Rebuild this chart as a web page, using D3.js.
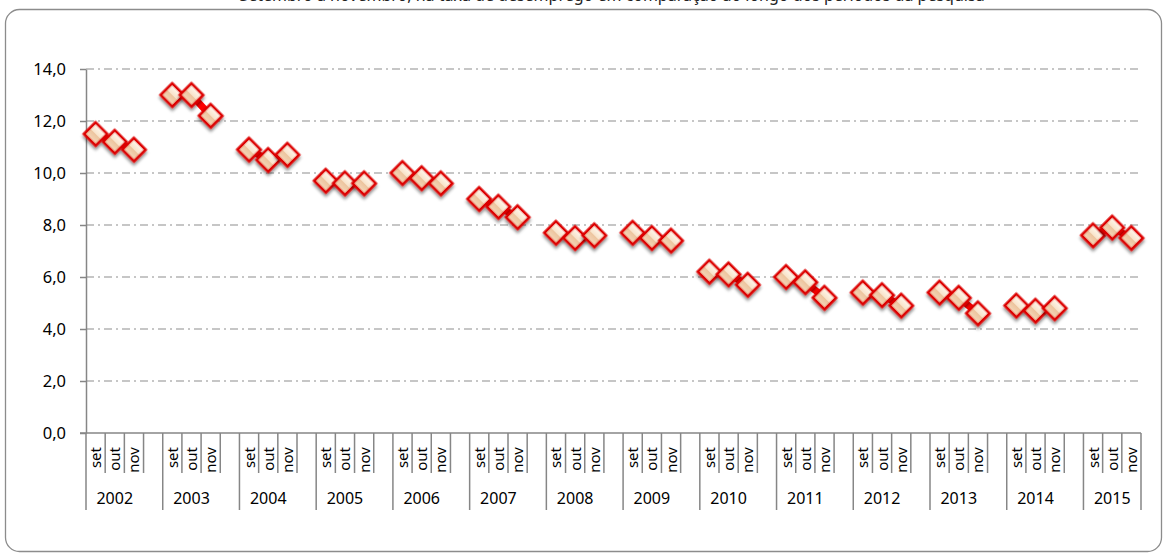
<!DOCTYPE html>
<html>
<head>
<meta charset="utf-8">
<script src="https://cdn.jsdelivr.net/npm/d3@7"></script>
<style>
  body { margin: 0; background: #fff; }
  svg { display: block; font-family: "Noto Sans", "Open Sans", sans-serif; }
</style>
</head>
<body>
<svg id="drawing_region"></svg>
<script>
// values (taxa, %), months set/out/nov per year
const years = ["2002","2003","2004","2005","2006","2007","2008","2009","2010","2011","2012","2013","2014","2015"];
const months = ["set","out","nov"];
const values = [
    [11.5, 11.2, 10.9],
    [13.0, 13.0, 12.2],
    [10.9, 10.5, 10.7],
    [9.7, 9.6, 9.6],
    [10.0, 9.8, 9.6],
    [9.0, 8.7, 8.3],
    [7.7, 7.5, 7.6],
    [7.7, 7.5, 7.4],
    [6.2, 6.1, 5.7],
    [6.0, 5.8, 5.2],
    [5.4, 5.3, 4.9],
    [5.4, 5.2, 4.6],
    [4.9, 4.7, 4.8],
    [7.6, 7.9, 7.5]
];
const yTicks = [0, 2, 4, 6, 8, 10, 12, 14];
const title = "Setembro a novembro, na taxa de desemprego em comparação ao longo dos períodos da pesquisa";

const config = {
    width: 1165,
    height: 555,
    margin: {top: 69, right: 24, bottom: 122, left: 86}
};

const svg = d3.select('#drawing_region')
    .attr('width', config.width)
    .attr('height', config.height);

const inner_width = config.width - config.margin.left - config.margin.right;
const inner_height = config.height - config.margin.top - config.margin.bottom;

// slots: every year gets set/out/nov + one empty slot, except the last year
let slots = [];
years.forEach((y, i) => {
    months.forEach(m => slots.push(y + "-" + m));
    if (i < years.length - 1) slots.push(y + "-gap");
});

let points = [];
years.forEach((y, i) => {
    months.forEach((m, j) => points.push({year: y, month: m, key: y + "-" + m, v: values[i][j]}));
});

const xscale = d3.scaleBand().domain(slots).range([0, inner_width]).padding(0);
const yscale = d3.scaleLinear().domain([0, 14]).range([inner_height, 0]);

// frame + title (title is cut by the top edge, as in the source)
svg.append('rect')
    .attr('x', 5.5).attr('y', 9.5)
    .attr('width', 1156).attr('height', 542)
    .attr('rx', 14).attr('ry', 14)
    .attr('fill', 'none').attr('stroke', '#8c8c8c').attr('stroke-width', 1.3);

svg.append('text')
    .attr('x', 612).attr('y', 1)
    .attr('text-anchor', 'middle')
    .attr('font-size', 16)
    .attr('fill', '#222')
    .text(title);

const defs = svg.append('defs');
const grad = defs.append('linearGradient')
    .attr('id', 'mk').attr('x1', 0).attr('y1', 0).attr('x2', 0).attr('y2', 1);
grad.append('stop').attr('offset', '0%').attr('stop-color', '#fffaf2');
grad.append('stop').attr('offset', '50%').attr('stop-color', '#f8e2c8');
grad.append('stop').attr('offset', '50%').attr('stop-color', '#ecc39d');
grad.append('stop').attr('offset', '100%').attr('stop-color', '#f5d9bb');

const shadow = defs.append('filter').attr('id', 'shd')
    .attr('x', '-50%').attr('y', '-50%').attr('width', '200%').attr('height', '200%');
shadow.append('feDropShadow')
    .attr('dx', 2).attr('dy', 2).attr('stdDeviation', 1.5)
    .attr('flood-color', '#000').attr('flood-opacity', 0.45);

const chart = svg.append('g')
    .attr('transform', `translate(${config.margin.left}, ${config.margin.top})`);

// gridlines
chart.append('g')
    .selectAll('line')
    .data(yTicks.filter(d => d > 0))
    .join('line')
    .attr('x1', 0).attr('x2', inner_width)
    .attr('y1', d => yscale(d)).attr('y2', d => yscale(d))
    .attr('stroke', '#b4b4b4').attr('stroke-width', 1.3)
    .attr('stroke-dasharray', '8,4,2,4');

// y axis
const yaxis = d3.axisLeft(yscale)
    .tickValues(yTicks)
    .tickSize(6)
    .tickSizeOuter(0)
    .tickFormat(d => d3.format('.1f')(d).replace('.', ','));

const yaxis_group = chart.append('g').call(yaxis);
yaxis_group.select('.domain').attr('stroke', '#868686').attr('stroke-width', 1.5);
yaxis_group.selectAll('.tick line').attr('stroke', '#868686').attr('stroke-width', 1.5);
yaxis_group.selectAll('.tick text')
    .attr('x', -20)
    .attr('font-size', 16.5)
    .attr('fill', '#000')
    .attr('font-family', '"Noto Sans", sans-serif');

// category axis
const xg = chart.append('g').attr('transform', `translate(0, ${inner_height})`);
xg.append('line')
    .attr('x1', -6).attr('x2', inner_width)
    .attr('stroke', '#868686').attr('stroke-width', 1.5);

// slot boundaries
let bounds = slots.map((s, i) => ({x: xscale(s), long: i === 0 || slots[i].endsWith('-set')}));
bounds.push({x: inner_width, long: true});
xg.selectAll('line.tk')
    .data(bounds)
    .join('line')
    .attr('class', 'tk')
    .attr('x1', d => d.x).attr('x2', d => d.x)
    .attr('y1', 0).attr('y2', d => d.long ? 77 : 40)
    .attr('stroke', '#868686').attr('stroke-width', 1.5);

xg.selectAll('text.mo')
    .data(points)
    .join('text')
    .attr('class', 'mo')
    .attr('transform', d => `translate(${xscale(d.key) + xscale.bandwidth() / 2 + 5.5}, 14) rotate(-90)`)
    .attr('text-anchor', 'end')
    .attr('font-size', 15)
    .attr('fill', '#000')
    .text(d => d.month);

xg.selectAll('text.yr')
    .data(years)
    .join('text')
    .attr('class', 'yr')
    .attr('x', d => (xscale(d + '-set') + xscale(d + '-nov') + xscale.bandwidth()) / 2)
    .attr('y', 71)
    .attr('text-anchor', 'middle')
    .attr('font-size', 16)
    .attr('fill', '#000')
    .text(d => d);

// lines within each year
const line = d3.line()
    .x(d => xscale(d.key) + xscale.bandwidth() / 2)
    .y(d => yscale(d.v));

chart.append('g')
    .selectAll('path')
    .data(years.map(y => points.filter(p => p.year === y)))
    .join('path')
    .attr('d', d => line(d))
    .attr('fill', 'none')
    .attr('stroke', '#ff0000')
    .attr('stroke-width', 7);

// diamond markers
const sym = d3.symbol().type(d3.symbolSquare).size(270);
chart.append('g')
    .selectAll('path')
    .data(points)
    .join('path')
    .attr('transform', d => `translate(${xscale(d.key) + xscale.bandwidth() / 2}, ${yscale(d.v)}) rotate(45)`)
    .attr('d', sym)
    .attr('fill', 'url(#mk)')
    .attr('stroke', '#dd0000')
    .attr('stroke-width', 2.8)
    .attr('filter', 'url(#shd)');
</script>
</body>
</html>
